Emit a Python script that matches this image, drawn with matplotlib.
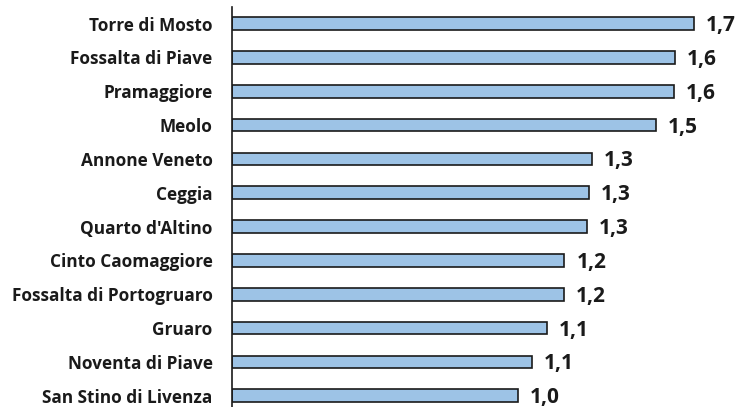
import matplotlib
matplotlib.use("Agg")
import matplotlib.pyplot as plt

categories = ["Torre di Mosto", "Fossalta di Piave", "Pramaggiore", "Meolo",
              "Annone Veneto", "Ceggia", "Quarto d'Altino", "Cinto Caomaggiore",
              "Fossalta di Portogruaro", "Gruaro", "Noventa di Piave",
              "San Stino di Livenza"]
values = [1.668, 1.600, 1.595, 1.531, 1.300, 1.289, 1.282, 1.200, 1.197,
          1.137, 1.083, 1.031]
labels = ["1,7", "1,6", "1,6", "1,5", "1,3", "1,3", "1,3", "1,2", "1,2",
          "1,1", "1,1", "1,0"]

plt.rcParams['font.family'] = ['Open Sans', 'DejaVu Sans']

fig = plt.figure(figsize=(7.44, 4.07), dpi=100)
W, H = 744, 407
left_px, right_px = 232, 232 + 1.8 * 277
top_px, bot_px = 6.6, 412.6
ax = fig.add_axes([left_px / W, 1 - bot_px / H, (right_px - left_px) / W,
                   (bot_px - top_px) / H])

y = list(range(len(categories)))
ax.barh(y, values, height=0.375, color="#9DC3E6", edgecolor="#1a1a1a",
        linewidth=1.2, zorder=2)
ax.set_ylim(len(categories) - 0.5, -0.5)
ax.set_xlim(0, 1.8)
ax.set_yticks(y)
ax.set_yticklabels(categories, fontsize=12.4, fontweight='bold', color="#1a1a1a")
ax.tick_params(axis='y', length=0, pad=14)
ax.set_xticks([])
for s in ["top", "right", "bottom"]:
    ax.spines[s].set_visible(False)
ax.spines["left"].set_color("#1a1a1a")
ax.spines["left"].set_linewidth(1.2)

for yi, v, lab in zip(y, values, labels):
    ax.annotate(lab, (v, yi), xytext=(12, -2), textcoords="offset pixels",
                ha="left", va="center", fontsize=15, fontweight="bold",
                color="#1a1a1a", annotation_clip=False)

fig.savefig("out.png", dpi=100)
